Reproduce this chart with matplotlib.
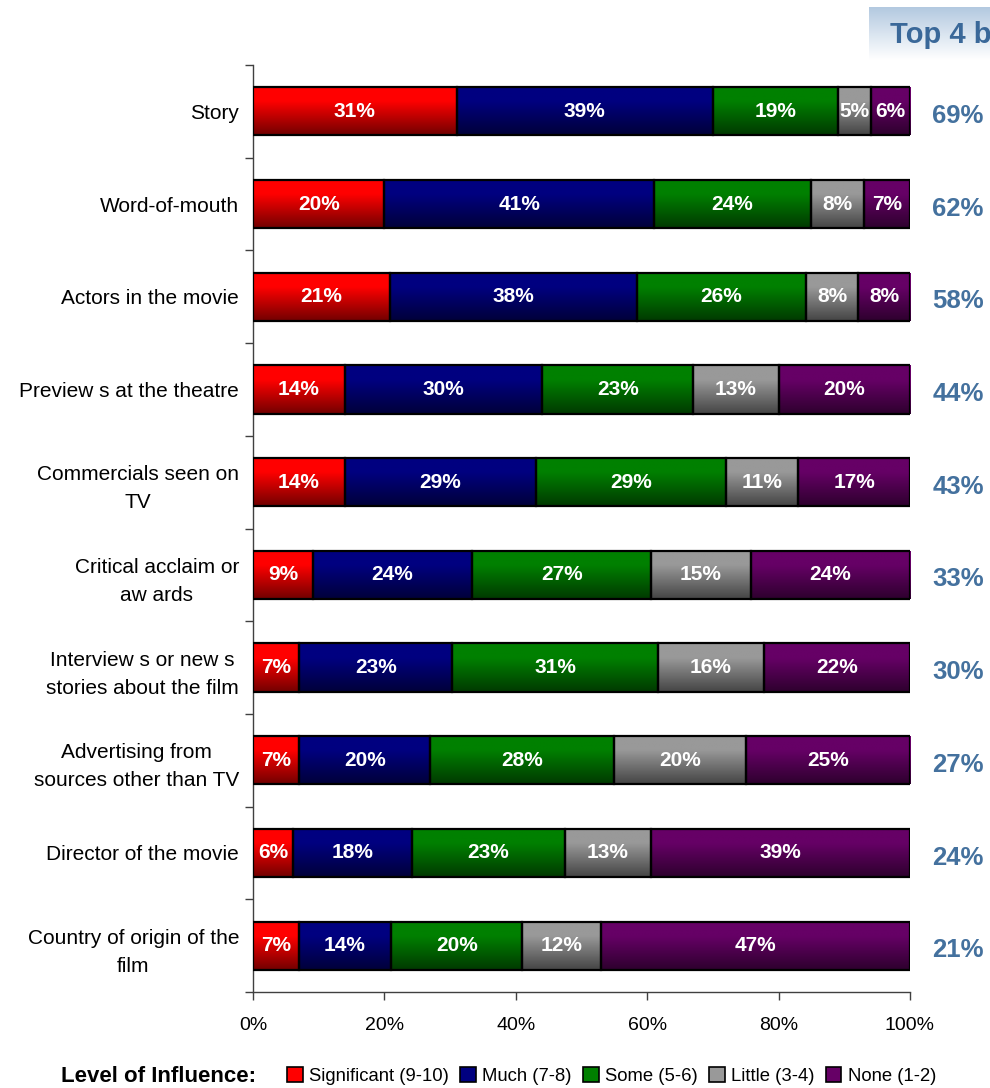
import numpy as np
import matplotlib
matplotlib.use("Agg")
import matplotlib.pyplot as plt
from matplotlib.patches import Patch

# ---- data ----
categories = [
    "Story",
    "Word-of-mouth",
    "Actors in the movie",
    "Preview s at the theatre",
    "Commercials seen on\nTV",
    "Critical acclaim or\naw ards",
    "Interview s or new s\nstories about the film",
    "Advertising from\nsources other than TV",
    "Director of the movie",
    "Country of origin of the\nfilm",
]
significant = [31, 20, 21, 14, 14, 9, 7, 7, 6, 7]
much = [39, 41, 38, 30, 29, 24, 23, 20, 18, 14]
some = [19, 24, 26, 23, 29, 27, 31, 28, 23, 20]
little = [5, 8, 8, 13, 11, 15, 16, 20, 13, 12]
none = [6, 7, 8, 20, 17, 24, 22, 25, 39, 47]
top_box = [69, 62, 58, 44, 43, 33, 30, 27, 24, 21]

series_names = ["Significant (9-10)", "Much (7-8)", "Some (5-6)", "Little (3-4)", "None (1-2)"]
series_colors = ["#ff0000", "#000080", "#008000", "#999999", "#660066"]

plt.rcParams["font.family"] = ["Liberation Sans", "DejaVu Sans"]

fig = plt.figure(figsize=(9.9, 10.88), dpi=100)
ax = fig.add_axes([253 / 990, 96 / 1088, 657 / 990, 927 / 1088])

n = len(categories)
ypos = np.arange(n)[::-1]
table = np.array([significant, much, some, little, none], dtype=float)
totals = table.sum(axis=0)
shares = table / totals * 100   # 100% stacked


def gradient(color):
    rgb = np.array(matplotlib.colors.to_rgb(color))
    t = np.linspace(0, 1, 64)
    fac = np.where(t < 0.3, 1.0, 1.0 - 0.55 * (t - 0.3) / 0.7)
    return (fac[:, None] * rgb[None, :])[:, None, :]


left = np.zeros(n)
for k in range(5):
    bars = ax.barh(ypos, shares[k], left=left, height=0.52, color=series_colors[k],
                   edgecolor="black", linewidth=1.6, zorder=4)
    grad = gradient(series_colors[k])
    for p in bars.patches:
        x0, y0, w, h = p.get_x(), p.get_y(), p.get_width(), p.get_height()
        im = ax.imshow(grad, extent=(x0, x0 + w, y0, y0 + h), origin="upper",
                       aspect="auto", zorder=3, interpolation="bilinear")
        im.set_clip_path(p)
        p.set_facecolor("none")
    ax.bar_label(bars, labels=[f"{int(v)}%" for v in table[k]], label_type="center",
                 color="white", fontweight="bold", fontsize=15, zorder=5)
    left += shares[k]

for y, v in zip(ypos, top_box):
    ax.text(107.3, y - 0.05, f"{v}%", ha="center", va="center", color="#44719e",
            fontweight="bold", fontsize=18.5, clip_on=False)

ax.set_xlim(0, 100)
ax.set_ylim(-0.5, n - 0.5)
ax.set_xticks(np.arange(0, 101, 20))
ax.set_xticklabels([f"{v}%" for v in range(0, 101, 20)], fontsize=14)
ax.set_yticks(ypos)
ax.set_yticklabels(categories, fontsize=15, multialignment="center", linespacing=1.6)
ax.set_yticks(np.arange(-0.5, n, 1.0), minor=True)
ax.tick_params(axis="y", which="major", length=0, pad=10)
ax.tick_params(axis="y", which="minor", length=6, width=1, color="#404040")
ax.tick_params(axis="x", length=6, width=1, color="#404040", pad=12)
for side in ("top", "right"):
    ax.spines[side].set_visible(False)
for side in ("left", "bottom"):
    ax.spines[side].set_color("#404040")
    ax.spines[side].set_linewidth(1)

# legend
fig.text(159 / 990, 1 - 1077 / 1088, "Level of Influence:", ha="center", va="center",
         fontsize=16, fontweight="bold")
handles = [Patch(facecolor=c, edgecolor="black", linewidth=1.2) for c in series_colors]
fig.legend(handles, series_names, loc="center left", bbox_to_anchor=(287 / 990, 1 - 1076 / 1088),
           ncol=5, frameon=False, prop={"size": 13.3},
           handlelength=0.85, handleheight=0.85, handletextpad=0.35, columnspacing=0.6,
           borderaxespad=0, borderpad=0)

# "Top 4 b" header box with light blue gradient
hax = fig.add_axes([869 / 990, 1 - 60 / 1088, 121 / 990, 53 / 1088])
top_rgb = np.array(matplotlib.colors.to_rgb("#b3c9e0"))
tt = np.linspace(0, 1, 64)[:, None]
hgrad = (1 - tt) * top_rgb[None, :] + tt * np.ones(3)[None, :]
hax.imshow(hgrad[:, None, :], aspect="auto", extent=(0, 1, 0, 1), origin="upper")
hax.axis("off")
fig.text(890 / 990, 1 - 35 / 1088, "Top 4 b", ha="left", va="center", fontsize=21,
         fontweight="bold", color="#3a6899")

fig.savefig("out.png", dpi=100)
